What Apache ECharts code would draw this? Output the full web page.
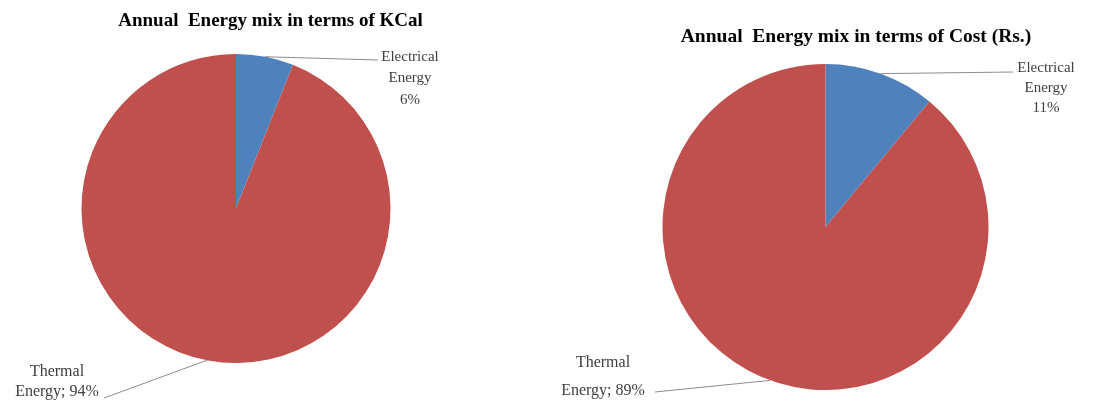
<!DOCTYPE html>
<html>
<head>
<meta charset="utf-8">
<script src="https://cdn.jsdelivr.net/npm/echarts@6/dist/echarts.min.js"></script>
<style>
  html, body { margin: 0; padding: 0; background: #fff; }
  #chart { width: 1115px; height: 403px; }
</style>
</head>
<body>
<div id="chart"></div>
<script>
// Energy sources and their annual shares (%)
const categories = ['Electrical Energy', 'Thermal Energy'];
const kcalShare = [6, 94];
const costShare = [11, 89];
const titles = ['Annual  Energy mix in terms of KCal', 'Annual  Energy mix in terms of Cost (Rs.)'];

const colors = ['#4F81BD', '#C0504D'];
const serif = '"Liberation Serif", "Times New Roman", serif';

// Per-pie geometry: centre, radius, title anchor, label anchors and leader-line end points
const pies = [
  {
    center: [236, 208.5], radius: 154.5, titleX: 265.5, titleY: 7, titleSize: 19,
    labelPos: [[410, 46], [57, 362]],
    labelLH: [21.5, 20],
    lineEnd: [[378, 60], [104, 398]]
  },
  {
    center: [825.5, 227], radius: 163, titleX: 851, titleY: 22, titleSize: 19.5,
    labelPos: [[1046, 58], [603, 349]],
    labelLH: [20, 28],
    lineEnd: [[1013, 72], [655, 392]]
  }
];
const shares = [kcalShare, costShare];
const labelSizes = [15, 16];

function labelText(name, value, idx) {
  const words = name.split(' ');
  return idx === 0
    ? words.join('\n') + '\n' + value + '%'
    : words[0] + '\n' + words.slice(1).join(' ') + '; ' + value + '%';
}

const chart = echarts.init(document.getElementById('chart'), null, { renderer: 'canvas' });

chart.setOption({
  animation: false,
  color: colors,
  title: pies.map((p, i) => ({
    text: titles[i],
    left: p.titleX,
    top: p.titleY,
    textAlign: 'center',
    textStyle: { fontFamily: serif, fontWeight: 'bold', fontSize: p.titleSize, color: '#000' }
  })),
  series: pies.map((p, i) => ({
    type: 'pie',
    center: p.center,
    radius: p.radius,
    startAngle: 90,
    clockwise: true,
    silent: true,
    itemStyle: { borderWidth: 0 },
    label: {
      show: true,
      position: 'outside',
      formatter: (prm) => labelText(prm.name, prm.value, prm.dataIndex),
      fontFamily: serif,
      color: '#404040',
      align: 'center'
    },
    labelLine: {
      show: true,
      length: 10,
      length2: 10,
      lineStyle: { color: '#8c8c8c', width: 1 }
    },
    labelLayout: (prm) => {
      const pos = p.labelPos[prm.dataIndex];
      const end = p.lineEnd[prm.dataIndex];
      const start = prm.labelLinePoints ? prm.labelLinePoints[0] : end;
      return {
        x: pos[0],
        y: pos[1],
        align: 'center',
        verticalAlign: 'top',
        labelLinePoints: [start, end, end]
      };
    },
    data: categories.map((c, k) => ({
      name: c,
      value: shares[i][k],
      label: { fontSize: labelSizes[k], lineHeight: p.labelLH[k] }
    }))
  }))
});
</script>
</body>
</html>
